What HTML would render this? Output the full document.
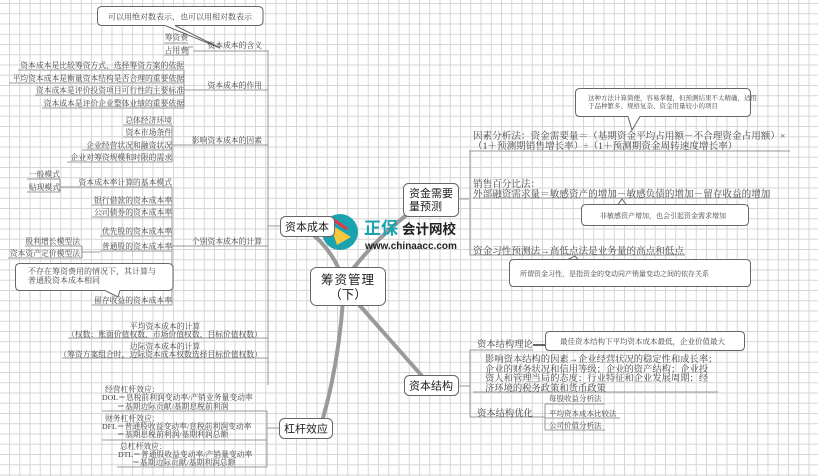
<!DOCTYPE html>
<html><head><meta charset="utf-8"><style>
html,body{margin:0;padding:0;}
body{width:818px;height:476px;overflow:hidden;background:#fff;
background-image:linear-gradient(to right,#d6d6d6 1px,transparent 1px),linear-gradient(to bottom,#d6d6d6 1px,transparent 1px);
background-size:10.25px 10.25px;background-position:9px 3px;}
svg{position:absolute;left:0;top:0;}
text{font-family:"Liberation Serif","Noto Serif CJK SC",serif;fill:#444;}
.s{font-family:"Liberation Sans","Noto Sans CJK SC",sans-serif;fill:#222;}
.l{stroke:#999;stroke-width:1;fill:none;}
.b{fill:#fff;stroke:#666;stroke-width:1;}
</style></head><body>
<svg width="818" height="476" viewBox="0 0 818 476">
<g stroke="#9a9a9a" stroke-width="4" fill="none" stroke-linecap="round">
<path d="M345 286 Q335 250 307 230"/>
<path d="M340 286 Q380 230 428 200"/>
<path d="M355 300 Q390 340 430 385"/>
<path d="M343 300 Q338 370 320 428"/>
</g>
<circle cx="340" cy="232" r="18" fill="#1aa3ae"/>
<path d="M330 224 L351 237 L337 245 Z" fill="#f6c83e"/>
<path d="M334 220 L347 229" stroke="#e34" stroke-width="3"/>
<text x="364" y="234" style="font-family:'Liberation Sans','Noto Sans CJK SC',sans-serif;font-weight:bold;font-size:17px;fill:#1aa3ae">正保</text>
<text x="402" y="234" style="font-family:'Liberation Sans','Noto Sans CJK SC',sans-serif;font-weight:bold;font-size:13.5px;fill:#222">会计网校</text>
<text x="365" y="249" style="font-family:'Liberation Sans',sans-serif;font-weight:bold;font-size:10px;fill:#222">www.chinaacc.com</text>

<rect class="b" x="280.5" y="216.5" width="54" height="20" rx="5"/>
<text class="s" x="307" y="230.5" text-anchor="middle" font-size="11">资本成本</text>
<rect class="b" x="310.5" y="267.5" width="75" height="38" rx="6"/>
<text class="s" x="348" y="284" text-anchor="middle" font-size="12.5" letter-spacing="1">筹资管理</text>
<text class="s" x="348" y="299" text-anchor="middle" font-size="12.5">（下）</text>
<rect class="b" x="403.5" y="183.5" width="55" height="33" rx="5"/>
<text class="s" x="409" y="197" font-size="11">资金需要</text>
<text class="s" x="409" y="210" font-size="11">量预测</text>
<rect class="b" x="404.5" y="375.5" width="54" height="20" rx="5"/>
<text class="s" x="431" y="389.5" text-anchor="middle" font-size="11">资本结构</text>
<rect class="b" x="279.5" y="418.5" width="53" height="20" rx="5"/>
<text class="s" x="306" y="432.5" text-anchor="middle" font-size="11">杠杆效应</text>

<path class="l" d="M280 226 H268 M268 50 V385 M206 51 H268 M206 90 H268 M190 145 H268 M190 246 H268 M68 338 H268 M62 358 H268"/>
<path class="l" d="M164 43 H188 M164 55 H188 V47 H193 M193 51 H206"/>
<path class="l" d="M18 70 H184 M9 83 H184 M35 95 H184 M42 108 H184 M184 70 V108 M184 90 H193 H206"/>
<path class="l" d="M123 125 H172 M123 137 H172 M82 150 H172 M67 162 H172 M172 125 V162 M172 145 H190"/>
<path class="l" d="M27 179 H60 M27 192 H60 M60 179 V192 M60 187 H75 M75 187 H172 M92 205 H172 M92 217 H172 M100 236 H172 M100 251 H172 M92 305 H172 M172 187 V305 M172 246 H190 M25 246 H82 M8 258 H82 M82 246 V258 M82 252 H100"/>
<path class="b" d="M102 6.5 H258 Q263 6.5 263 11 V21 Q263 25.5 258 25.5 H175 L220 48 L165 25.5 H102 Q97.5 25.5 97.5 21 V11 Q97.5 6.5 102 6.5 Z"/>
<text x="180" y="19.5" text-anchor="middle" font-size="8">可以用绝对数表示，也可以用相对数表示</text>
<path class="b" d="M20 263.5 H168 Q173 263.5 173 268 V286 Q173 290.5 168 290.5 H120 L118 297 L105 290.5 H20 Q15.5 290.5 15.5 286 V268 Q15.5 263.5 20 263.5 Z"/>
<text x="28" y="274" font-size="8">不存在筹资费用的情况下，其计算与</text>
<text x="28" y="283" font-size="8">普通股资本成本相同</text>

<g font-size="7.8">
<text x="188" y="40" text-anchor="end">筹资费</text>
<text x="188" y="53" text-anchor="end">占用费</text>
<text x="262" y="48" text-anchor="end">资本成本的含义</text>
<text x="184" y="68" text-anchor="end">资本成本是比较筹资方式、选择筹资方案的依据</text>
<text x="184" y="81" text-anchor="end">平均资本成本是衡量资本结构是否合理的重要依据</text>
<text x="184" y="93" text-anchor="end">资本成本是评价投资项目可行性的主要标准</text>
<text x="184" y="106" text-anchor="end">资本成本是评价企业整体业绩的重要依据</text>
<text x="262" y="88" text-anchor="end">资本成本的作用</text>
<text x="172" y="123" text-anchor="end">总体经济环境</text>
<text x="172" y="135" text-anchor="end">资本市场条件</text>
<text x="172" y="148" text-anchor="end">企业经营状况和融资状况</text>
<text x="172" y="160" text-anchor="end">企业对筹资规模和时限的需求</text>
<text x="262" y="143" text-anchor="end">影响资本成本的因素</text>
<text x="60" y="177" text-anchor="end">一般模式</text>
<text x="60" y="190" text-anchor="end">贴现模式</text>
<text x="172" y="185" text-anchor="end">资本成本率计算的基本模式</text>
<text x="172" y="203" text-anchor="end">银行借款的资本成本率</text>
<text x="172" y="215" text-anchor="end">公司债券的资本成本率</text>
<text x="172" y="234" text-anchor="end">优先股的资本成本率</text>
<text x="172" y="249" text-anchor="end">普通股的资本成本率</text>
<text x="80" y="244" text-anchor="end">股利增长模型法</text>
<text x="80" y="256" text-anchor="end">资本资产定价模型法</text>
<text x="262" y="244" text-anchor="end">个别资本成本的计算</text>
<text x="172" y="303" text-anchor="end">留存收益的资本成本率</text>
<text x="165" y="329" text-anchor="middle">平均资本成本的计算</text>
<text x="262" y="337" text-anchor="end">（权数：账面价值权数、市场价值权数、目标价值权数）</text>
<text x="165" y="349" text-anchor="middle">边际资本成本的计算</text>
<text x="262" y="357" text-anchor="end">（筹资方案组合时，边际资本成本权数选择目标价值权数）</text>
</g>

<path class="l" d="M279 428 H267 M267 411 V467 M102 411 H267 M102 440 H267 M117 467 H267"/>
<g font-size="7.8">
<text x="105" y="392">经营杠杆效应：</text>
<text x="102" y="400">DOL＝息税前利润变动率/产销业务量变动率</text>
<text x="117" y="409">＝基期边际贡献/基期息税前利润</text>
<text x="105" y="421">财务杠杆效应：</text>
<text x="102" y="429">DFL＝普通股收益变动率/息税前利润变动率</text>
<text x="117" y="437">＝基期息税前利润/基期利润总额</text>
<text x="120" y="449">总杠杆效应：</text>
<text x="118" y="457">DTL＝普通股收益变动率/产销量变动率</text>
<text x="132" y="465">＝基期边际贡献/基期利润总额</text>
</g>

<path class="l" d="M458 199 H469 M473 151 H470 V255 H473 M469 151 H790 M473 198 H770 M473 255 H685"/>
<path class="b" d="M580 88.5 H746 Q750.5 88.5 750.5 93 V112 Q750.5 116.5 746 116.5 H640 L632 130 L628 116.5 H580 Q575.5 116.5 575.5 112 V93 Q575.5 88.5 580 88.5 Z"/>
<text x="588" y="100" font-size="6.5">这种方法计算简便，容易掌握，但预测结果不太精确，适用</text>
<text x="588" y="108" font-size="6.5">于品种繁多、规格复杂、资金用量较小的项目</text>
<g font-size="9.6">
<text x="473" y="139">因素分析法：资金需要量＝（基期资金平均占用额－不合理资金占用额）×</text>
<text x="473" y="149">（1＋预测期销售增长率）÷（1＋预测期资金周转速度增长率）</text>
<text x="473" y="187">销售百分比法：</text>
<text x="473" y="197">外部融资需求量＝敏感资产的增加－敏感负债的增加－留存收益的增加</text>
<text x="473" y="254">资金习性预测法→高低点法是业务量的高点和低点</text>
</g>
<path class="b" d="M586 204.5 H744 Q748.5 204.5 748.5 209 V221 Q748.5 225.5 744 225.5 H586 Q581.5 225.5 581.5 221 V209 Q581.5 204.5 586 204.5 H618 L622 199 L626 204.5"/>
<text x="600" y="218" font-size="7">非敏感资产增加，也会引起资金需求增加</text>
<path class="b" d="M514 259.5 H746 Q750.5 259.5 750.5 264 V282 Q750.5 286.5 746 286.5 H514 Q509.5 286.5 509.5 282 V264 Q509.5 259.5 514 259.5 H568 L575 256 L578 259.5"/>
<text x="520" y="276" font-size="7">所谓资金习性，是指资金的变动同产销量变动之间的依存关系</text>

<path class="l" d="M458 386 H470 M473 350 H470 V417 H473 M473 350 H533 M473 392 H718 M473 417 H540"/>
<path d="M533 345 H545" stroke="#333" stroke-width="1.5"/>
<path class="b" d="M549.5 331.5 H740 Q744.5 331.5 744.5 336 V346 Q744.5 350.5 740 350.5 H549.5 Q545.5 350.5 545.5 346 V336 Q545.5 331.5 549.5 331.5 Z"/>
<text x="560" y="344" font-size="7.5">最佳资本结构下平均资本成本最低，企业价值最大</text>
<path class="l" d="M540 417 H545 M545 404 V430 M545 404 H605 M545 418 H620 M545 430 H605"/>
<g font-size="9.3">
<text x="477" y="347">资本结构理论</text>
<text x="485" y="362">影响资本结构的因素→企业经营状况的稳定性和成长率；</text>
<text x="485" y="372">企业的财务状况和信用等级；企业的资产结构；企业投</text>
<text x="485" y="381">资人和管理当局的态度；行业特征和企业发展周期；经</text>
<text x="485" y="391">济环境的税务政策和货币政策</text>
<text x="477" y="416">资本结构优化</text>
</g>
<g font-size="7.5">
<text x="549" y="401">每股收益分析法</text>
<text x="549" y="416">平均资本成本比较法</text>
<text x="549" y="428">公司价值分析法</text>
</g>
</svg>
</body></html>
